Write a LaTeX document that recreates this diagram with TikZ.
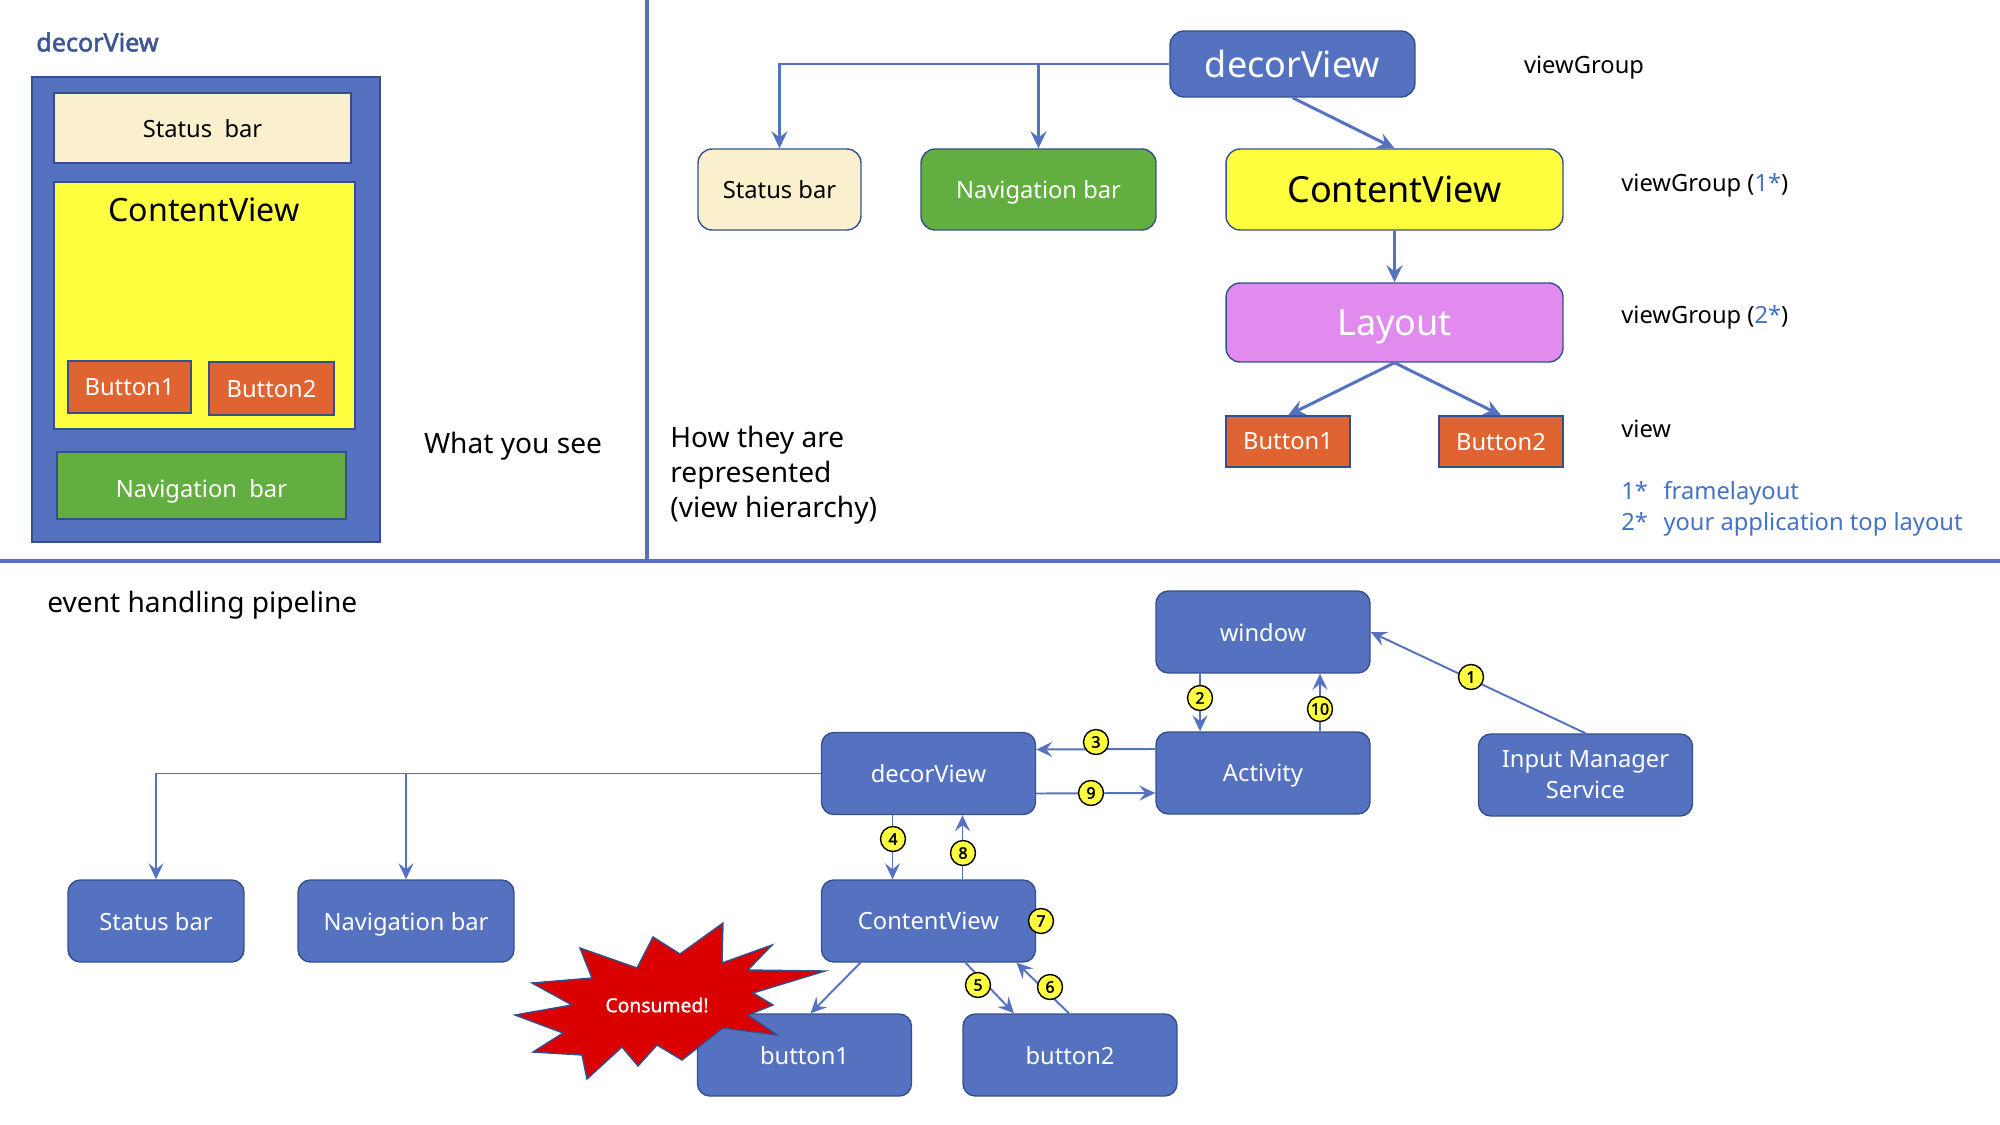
\documentclass[tikz,border=0pt]{standalone}
\usepackage{fontspec}
\setmainfont{Noto Sans}
\newfontfamily\heavy{Noto Sans}[FakeBold=2.2]
\newfontfamily\semi{Noto Sans}[FakeBold=1]
\usetikzlibrary{calc}
\usetikzlibrary{arrows.meta}
\definecolor{blu}{RGB}{85,114,193}
\definecolor{bdr}{RGB}{52,80,140}
\definecolor{cream}{RGB}{251,240,206}
\definecolor{grn}{RGB}{99,174,65}
\definecolor{ylw}{RGB}{255,255,64}
\definecolor{vio}{RGB}{226,139,238}
\definecolor{org}{RGB}{224,100,50}
\definecolor{starred}{RGB}{218,0,0}
\definecolor{note}{RGB}{68,114,196}
\definecolor{ttl}{RGB}{63,85,150}
\newcommand{\fbase}{\fontsize{13.5}{17.6}\selectfont}
\newcommand{\fmid}{\fontsize{18.3}{22}\selectfont}
\newcommand{\fbig}{\fontsize{20.5}{24}\selectfont}
\newcommand{\fhead}{\fontsize{16}{19.8}\selectfont}
\tikzset{
	flat/.style={draw=bdr, line width=0.8pt, inner sep=0pt, font=\fbase, text depth=0pt},
	tree/.style={flat, rounded corners=8pt},
	pipe/.style={tree, rounded corners=7pt, fill=blu, text=white, minimum width=4.28cm, minimum height=1.64cm},
	plain/.style={inner sep=0pt, anchor=west},
	stepnum/.style={circle, draw=black, line width=0.8pt, fill=ylw, inner sep=0pt, minimum size=0.5cm, font=\fontsize{9}{9}\heavy},
	link/.style={draw=blu, line width=1.7pt, -{Stealth[length=0.34cm,width=0.32cm,inset=0.12cm]}},
	flow/.style={draw=blu, line width=1.1pt, -{Stealth[length=0.32cm,width=0.3cm,inset=0.12cm]}},
	divider/.style={draw=blu, line width=2.8pt},
}
\begin{document}
\begin{tikzpicture}[x=0.02cm,y=-0.02cm]
	\useasboundingbox (0,0) rectangle (2000,1125);
	% what you see
	\node[plain, font=\fontsize{14.3}{17}\heavy, text=ttl] (stitle) at (36,42) {decorView};
	\node[flat, fill=blu, minimum width=6.96cm, minimum height=9.3cm] (sframe) at (206,309.5) {};
	\node[flat, fill=cream, minimum width=5.94cm, minimum height=1.4cm] (ssb) at (202.5,128) {Status\ \ bar};
	\node[flat, fill=ylw, minimum width=6.02cm, minimum height=4.94cm] (scv) at (204.5,305.5) {};
	\node[font=\fmid] (scvt) at (204,210) {ContentView};
	\node[flat, fill=org, text=white, minimum width=2.46cm, minimum height=1.04cm] (sb1) at (129.5,387) {Button1};
	\node[flat, fill=org, text=white, minimum width=2.5cm, minimum height=1.06cm] (sb2) at (271.5,388.5) {Button2};
	\node[flat, fill=grn, text=white, minimum width=5.78cm, minimum height=1.34cm] (snb) at (201.5,485.5) {};
	\node[font=\fbase, text=white] (snbt) at (201.5,491) {Navigation\ \ bar};
	\node[font=\fhead] (see) at (513,446) {What you see};
	% view hierarchy
	\node[tree, fill=blu, text=white, font=\fbig, minimum width=4.9cm, minimum height=1.32cm] (tdv) at (1292.5,64) {decorView};
	\node[tree, fill=cream, minimum width=3.26cm, minimum height=1.62cm] (tsb) at (779.5,189.5) {Status bar};
	\node[tree, fill=grn, text=white, minimum width=4.7cm, minimum height=1.62cm] (tnb) at (1038.5,189.5) {Navigation bar};
	\node[tree, fill=ylw, font=\fbig, minimum width=6.74cm, minimum height=1.62cm] (tcv) at (1394.5,189.5) {ContentView};
	\node[tree, fill=vio, text=white, font=\fbig, minimum width=6.74cm, minimum height=1.58cm] (tly) at (1394.5,322.5) {Layout};
	\node[flat, fill=org, text=white, minimum width=2.48cm, minimum height=1.02cm] (tb1) at (1288,441.5) {Button1};
	\node[flat, fill=org, text=white, minimum width=2.48cm, minimum height=1.02cm] (tb2) at (1501,441.5) {Button2};
	\draw[link] (tdv.west) -| (tsb.north);
	\draw[link] (tnb.north |- tdv.west) -- (tnb.north);
	\draw[link] (tdv.south) -- (tcv.north);
	\draw[link] (tcv.south) -- (tly.north);
	\draw[link] (tly.south) -- (tb1.north);
	\draw[link] (tly.south) -- (tb2.north);
	\node[font=\fbase] (vg0) at (1584,68) {viewGroup};
	\node[plain, font=\fbase] (vg1) at (1621,185) {viewGroup (\textcolor{note}{1*})};
	\node[plain, font=\fbase] (vg2) at (1621,317) {viewGroup (\textcolor{note}{2*})};
	\node[plain, font=\fbase] (vw) at (1621,429) {view};
	\node[plain, font=\fbase, text=note, align=left] (notes) at (1621,509)
		{\makebox[24pt][l]{1*}framelayout\\\makebox[24pt][l]{2*}your application top layout};
	\node[plain, font=\fhead, align=left] (how) at (670,475) {How they are\\represented\\(view hierarchy)};
	\draw[divider] (647,0) -- (647,561);
	\draw[divider] (0,561) -- (2000,561);
	% event handling pipeline
	\node[plain, font=\fhead] (pipetitle) at (47,605.5) {event handling pipeline};
	\node[pipe] (win) at (1263,632) {window};
	\node[pipe] (act) at (1263,773) {Activity};
	\node[pipe, align=center, text depth=] (ims) at (1585.5,775) {Input Manager\\Service};
	\node[pipe] (dcv) at (928.5,773.5) {decorView};
	\node[pipe, minimum width=3.52cm] (sb) at (156,921) {Status bar};
	\node[pipe, minimum width=4.32cm] (nb) at (406,921) {Navigation bar};
	\node[pipe] (cv) at (928.5,921) {ContentView};
	\node[pipe] (b1) at (804.5,1055) {button1};
	\node[pipe] (b2) at (1070,1055) {button2};
	\draw[fill=starred, draw=bdr, line width=0.8pt] (723,923) -- (722,963) -- (772,945) -- (748,970) -- (825,971) -- (753,993) -- (773,1005) -- (748,1015) -- (777,1035) -- (723,1028) -- (682,1060) -- (657,1045) -- (638,1066) -- (622,1047) -- (587,1079) -- (582,1055) -- (533,1052) -- (563,1033) -- (515,1015) -- (572,1005) -- (532,983) -- (592,978) -- (580,948) -- (637,968) -- (653,937) -- (680,954) -- cycle;
	\node[text=white, font=\fontsize{11}{11}\semi] (consumed) at (657,1005) {Consumed!};
	\draw[flow] (ims.north) -- (win.east);
	\draw[flow] ($(win.south)+(-63,0)$) -- ($(act.north)+(-63,0)$);
	\draw[flow] ($(act.north)+(57,0)$) -- ($(win.south)+(57,0)$);
	\draw[flow] ($(act.west)+(0,-24)$) -- ($(dcv.east)+(0,-24)$);
	\draw[flow] ($(dcv.east)+(0,20)$) -- ($(act.west)+(0,20)$);
	\draw[flow] ($(dcv.south)+(-36,0)$) -- ($(cv.north)+(-36,0)$);
	\draw[flow] ($(cv.north)+(34,0)$) -- ($(dcv.south)+(34,0)$);
	\draw[flow, line width=0.9pt] (dcv.west) -| (sb.north);
	\draw[flow, line width=0.9pt] (nb.north |- dcv.west) -- (nb.north);
	\draw[flow] ($(cv.south)+(-68,0)$) -- ($(b1.north)+(6,0)$);
	\draw[flow] ($(cv.south)+(37,0)$) -- ($(b2.north)+(-56,0)$);
	\draw[flow] ($(b2.north)+(-1,0)$) -- ($(cv.south)+(88,0)$);
	\node[stepnum] (n1) at (1471,677) {1};
	\node[stepnum] (n2) at (1200,698) {2};
	\node[stepnum] (n3) at (1096,742) {3};
	\node[stepnum] (n4) at (893,839) {4};
	\node[stepnum] (n5) at (978,985) {5};
	\node[stepnum] (n6) at (1050,987) {6};
	\node[stepnum] (n7) at (1041,921) {7};
	\node[stepnum] (n8) at (963,853) {8};
	\node[stepnum] (n9) at (1091,793) {9};
	\node[stepnum] (n10) at (1320,709) {10};
\end{tikzpicture}
\end{document}
